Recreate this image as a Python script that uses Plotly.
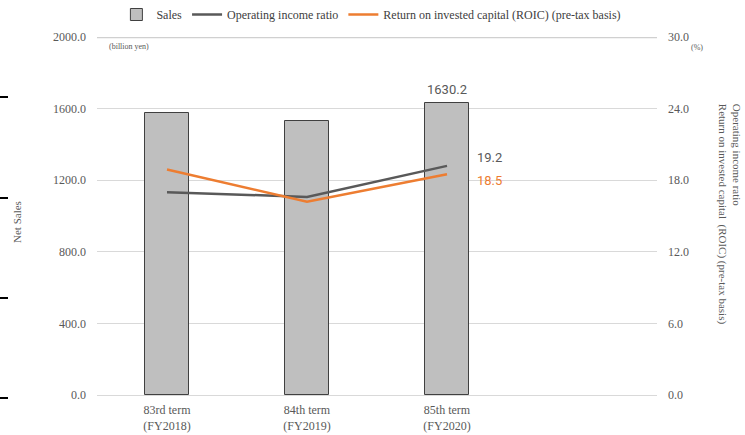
import plotly.graph_objects as go

categories = ["83rd term<br>(FY2018)", "84th term<br>(FY2019)", "85th term<br>(FY2020)"]
sales = [1575.0, 1531.0, 1630.2]
op_income_ratio = [17.0, 16.6, 19.2]
roic = [18.9, 16.2, 18.5]
left_ticks = [0, 400, 800, 1200, 1600, 2000]
right_ticks = [0, 6, 12, 18, 24, 30]

GREY = "#595959"
SERIF = "Liberation Serif"
SANS = "Roboto"

fig = go.Figure()
fig.add_trace(go.Bar(
    x=categories, y=sales, name="Sales", width=0.31,
    marker=dict(color="#bfbfbf", line=dict(color="#404040", width=1)),
))
fig.add_trace(go.Scatter(
    x=categories, y=op_income_ratio, name="Operating income ratio", yaxis="y2",
    mode="lines", line=dict(color=GREY, width=2.5),
))
fig.add_trace(go.Scatter(
    x=categories, y=roic, name="Return on invested capital (ROIC) (pre-tax basis)", yaxis="y2",
    mode="lines", line=dict(color="#ed7d31", width=2.5),
))

fig.add_annotation(x=categories[2], y=sales[2], yref="y", text=f"{sales[2]:.1f}", yanchor="bottom",
                   showarrow=False, yshift=4, font=dict(family=SANS, size=13, color=GREY))
fig.add_annotation(x=categories[2], y=op_income_ratio[2], yref="y2", text=f"{op_income_ratio[2]:.1f}",
                   showarrow=False, xshift=42, yshift=8, font=dict(family=SANS, size=13, color=GREY))
fig.add_annotation(x=categories[2], y=roic[2], yref="y2", text=f"{roic[2]:.1f}",
                   showarrow=False, xshift=42, yshift=-6, font=dict(family=SANS, size=13, color="#ed7d31"))

fig.add_annotation(xref="paper", yref="paper", x=0.018, y=1.0, xanchor="left", yanchor="top",
                   text="(billion yen)", showarrow=False, yshift=-3,
                   font=dict(family=SERIF, size=8, color=GREY))
fig.add_annotation(xref="paper", yref="paper", x=1.058, y=1.0, xanchor="left", yanchor="top",
                   text="(%)", showarrow=False, yshift=-4,
                   font=dict(family=SERIF, size=8, color=GREY))
fig.add_annotation(xref="paper", yref="paper", x=-0.143, y=0.483, xanchor="center", yanchor="middle",
                   text="Net Sales", textangle=-90,
                   showarrow=False, font=dict(family=SERIF, size=11, color=GREY))
fig.add_annotation(xref="paper", yref="paper", x=1.1286, y=0.506, xanchor="center", yanchor="middle",
                   text="Operating income ratio<br>Return on invested capital  (ROIC) (pre-tax basis)",
                   textangle=90, align="left", showarrow=False, font=dict(family=SERIF, size=11, color=GREY))

# top gridline at the upper end of the axis (drawn just inside the plot area)
fig.add_shape(type="line", xref="paper", yref="y", x0=0, x1=1,
              y0=left_ticks[-1] - 3, y1=left_ticks[-1] - 3,
              line=dict(color="#d0d0d0", width=1.2), layer="above")

for yy in [97, 198, 298, 398]:
    fig.add_shape(type="line", xref="paper", yref="paper",
                  x0=-97/560, x1=-89/560, y0=(395-yy)/358, y1=(395-yy)/358,
                  line=dict(color="black", width=2))

fig.update_layout(
    width=745, height=435,
    margin=dict(l=97, r=88, t=37, b=40),
    paper_bgcolor="white", plot_bgcolor="white",
    font=dict(family=SERIF, size=12, color=GREY),
    showlegend=True,
    legend=dict(orientation="h", x=0.49, xanchor="center", y=1.0, yanchor="top",
                yref="container", font=dict(family=SERIF, size=12, color="#404040"),
                itemwidth=30, tracegroupgap=0),
    xaxis=dict(range=[-0.5, 3.5], showgrid=False, showline=True, linecolor="#d9d9d9",
               ticks="", automargin=False, ticklabelstandoff=4,
               tickfont=dict(family=SERIF, size=12, color=GREY)),
    yaxis=dict(range=[0, 2000], tickvals=left_ticks, tickformat=".1f", showgrid=True,
               gridcolor="#d9d9d9", zeroline=False, ticks="", ticklabelstandoff=10, automargin=False,
               tickfont=dict(family=SERIF, size=12, color=GREY)),
    yaxis2=dict(range=[0, 30], tickvals=right_ticks, tickformat=".1f", overlaying="y",
                side="right", showgrid=False, zeroline=False, ticks="", ticklabelstandoff=10,
                automargin=False, tickfont=dict(family=SERIF, size=12, color=GREY)),
    bargap=0,
)

fig.write_html("out.html")
